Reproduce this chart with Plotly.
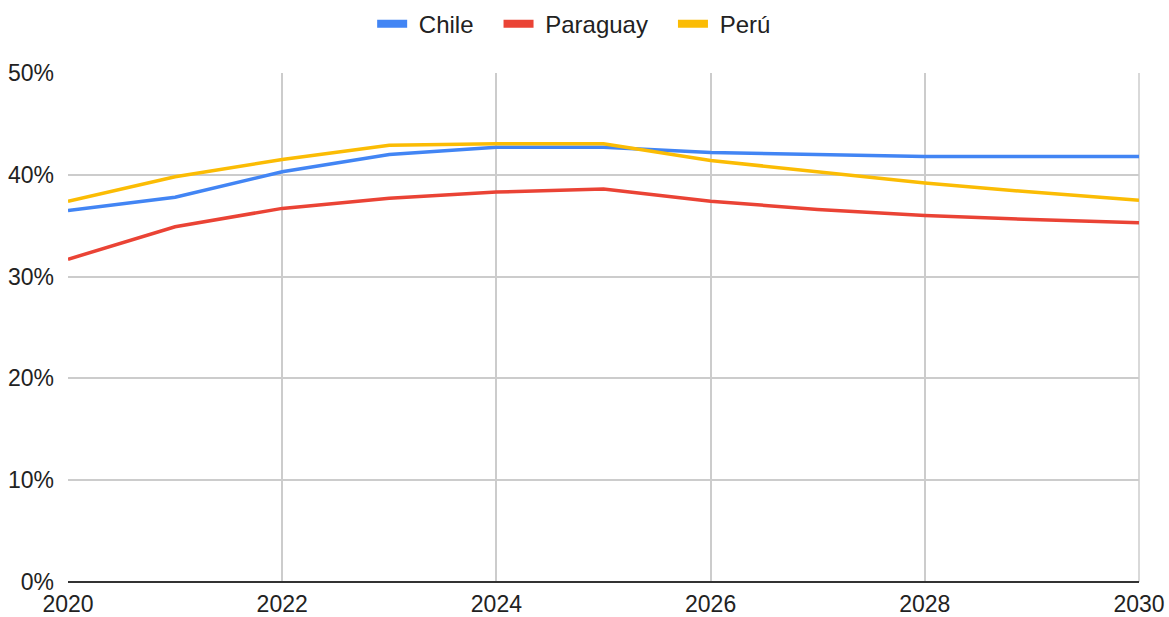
import plotly.graph_objects as go

years = [2020, 2021, 2022, 2023, 2024, 2025, 2026, 2027, 2028, 2029, 2030]
chile = [36.5, 37.8, 40.3, 42.0, 42.7, 42.7, 42.2, 42.0, 41.8, 41.8, 41.8]
paraguay = [31.7, 34.9, 36.7, 37.7, 38.3, 38.6, 37.4, 36.6, 36.0, 35.6, 35.3]
peru = [37.4, 39.8, 41.5, 42.9, 43.05, 43.05, 41.4, 40.3, 39.2, 38.3, 37.5]

names = ["Chile", "Paraguay", "Perú"]
colors = ["#4285F4", "#EA4335", "#FBBC04"]
series = [chile, paraguay, peru]

lead = "\u00a0"
pad = "\u00a0" * 3

fig = go.Figure()
for name, col, vals in zip(names, colors, series):
    fig.add_trace(go.Scatter(x=years, y=vals, mode="lines", name=name,
                             line=dict(color=col, width=3.5), showlegend=False,
                             hovertemplate="%{y:.1f}%<extra>" + name + "</extra>"))
for name, col in zip(names, colors):
    fig.add_trace(go.Scatter(x=[None], y=[None], mode="lines", name=lead + name + pad,
                             line=dict(color=col, width=8),
                             showlegend=True))

fig.update_layout(
    width=1169, height=617,
    margin=dict(l=68, r=30, t=73, b=35, autoexpand=False),
    paper_bgcolor="white", plot_bgcolor="white",
    font=dict(family="Liberation Sans, Arial, sans-serif", size=23, color="#222222"),
    legend=dict(orientation="h", x=0.284, xanchor="left", y=1.096, yanchor="middle",
                font=dict(size=24, color="#222222"), itemwidth=30),
    xaxis=dict(range=[2020, 2030], dtick=2, tick0=2020, showgrid=True,
               gridcolor="#cccccc", gridwidth=1.5, zeroline=False, showline=False,
               ticks="", ticklen=0, automargin=False, ticklabelstandoff=6),
    yaxis=dict(range=[0, 50], dtick=10, ticksuffix="%", showgrid=True,
               gridcolor="#cccccc", gridwidth=1.5, zeroline=True, zerolinecolor="#333333",
               zerolinewidth=2, showline=False, ticks="", ticklabelstandoff=13,
               automargin=False),
)
fig.add_shape(type="line", xref="paper", yref="paper", x0=1, x1=1, y0=0, y1=1,
              line=dict(color="#cccccc", width=1.5), layer="below")

fig.write_html("out.html")
